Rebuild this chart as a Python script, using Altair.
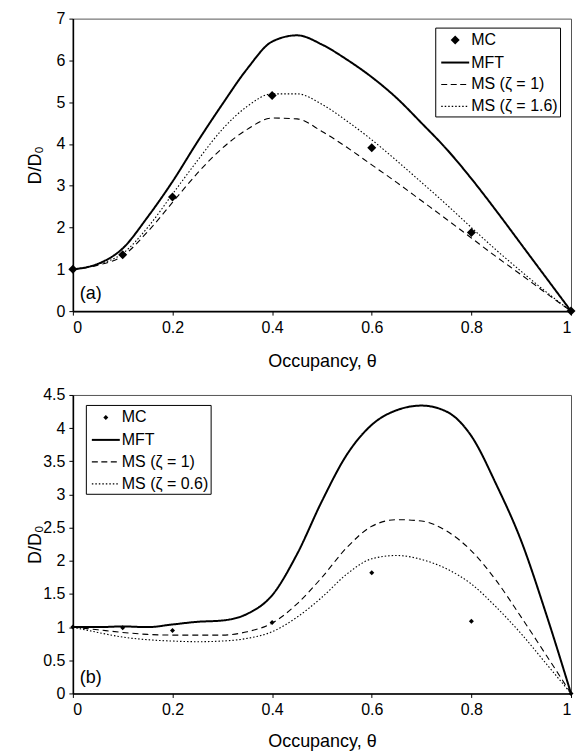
import altair as alt
import pandas as pd

FONT = "Liberation Sans"

theta = [0, 0.05, 0.1, 0.15, 0.2, 0.25, 0.3, 0.35, 0.4, 0.45, 0.5,
         0.55, 0.6, 0.65, 0.7, 0.75, 0.8, 0.85, 0.9, 0.95, 1.0]

# ---- panel (a)
mft_a = [1.00, 1.13, 1.50, 2.25, 3.10, 4.05, 4.95, 5.80, 6.45, 6.60, 6.38,
         6.02, 5.60, 5.10, 4.50, 3.88, 3.17, 2.40, 1.60, 0.80, 0.00]
ms1_a = [1.00, 1.10, 1.32, 1.90, 2.60, 3.30, 3.90, 4.35, 4.62, 4.60, 4.30,
         3.92, 3.50, 3.08, 2.64, 2.20, 1.75, 1.30, 0.87, 0.43, 0.00]
ms16_a = [1.00, 1.12, 1.38, 2.00, 2.80, 3.60, 4.35, 4.90, 5.20, 5.20, 4.95,
          4.55, 4.10, 3.60, 3.08, 2.55, 2.00, 1.46, 0.95, 0.46, 0.00]
mc_theta = [0, 0.1, 0.2, 0.4, 0.6, 0.8, 1.0]
mc_a = [1.00, 1.35, 2.73, 5.16, 3.91, 1.88, 0.00]

# ---- panel (b)
mft_b = [1.00, 1.00, 1.01, 1.00, 1.04, 1.08, 1.10, 1.20, 1.48, 2.10, 2.90,
         3.60, 4.05, 4.27, 4.34, 4.25, 3.88, 3.15, 2.30, 1.20, 0.00]
ms1_b = [1.00, 0.96, 0.92, 0.89, 0.88, 0.88, 0.88, 0.93, 1.06, 1.35, 1.75,
         2.20, 2.52, 2.62, 2.60, 2.45, 2.15, 1.70, 1.15, 0.58, 0.00]
ms06_b = [1.00, 0.92, 0.85, 0.81, 0.79, 0.78, 0.79, 0.83, 0.93, 1.15, 1.45,
          1.80, 2.03, 2.08, 2.02, 1.88, 1.65, 1.30, 0.90, 0.45, 0.00]
mc_b = [1.00, 0.99, 0.95, 1.07, 1.82, 1.09, 0.00]

names_a = ["MC", "MFT", "MS (ζ = 1)", "MS (ζ = 1.6)"]
names_b = ["MC", "MFT", "MS (ζ = 1)", "MS (ζ = 0.6)"]

x_ticks = [0, 0.2, 0.4, 0.6, 0.8, 1]
y_ticks_a = [0, 1, 2, 3, 4, 5, 6, 7]
y_ticks_b = [0, 0.5, 1, 1.5, 2, 2.5, 3, 3.5, 4, 4.5]

panel_a_label = ["(a)"]
panel_b_label = ["(b)"]
label_pos_a = [0.014, 0.42]
label_pos_b = [0.014, 0.24]

DASHES = [[1, 0], [1, 0], [6, 4], [1.5, 2]]
WIDTHS = [1, 2, 1.1, 1.1]


def diamond(r):
    return f"M-{r},0L0,-{r}L{r},0L0,{r}Z"


def bar_path(dash, gap, half_h, lo=-1.4, hi=1.4):
    """Filled legend glyph: a row of small bars (solid if gap == 0)."""
    parts = []
    a = lo
    while a < hi - 1e-9:
        b = min(a + dash, hi)
        parts.append(f"M{a:.3f},{-half_h:.3f}H{b:.3f}V{half_h:.3f}H{a:.3f}Z")
        a = b + gap
        if gap == 0:
            break
    return "".join(parts)


SOLID_GLYPH = bar_path(2.8, 0, 0.1)
DASH_GLYPH = bar_path(0.6, 0.35, 0.055)
DOT_GLYPH = bar_path(0.15, 0.2, 0.06)


def panel(names, series_vals, mc_vals, ymax, yticks, height, leg_xy, label, label_pos,
          mc_r, title_y):
    rows = []
    for name, vals in zip(names[1:], series_vals):
        for t, v in zip(theta, vals):
            rows.append({"theta": t, "d": v, "series": name})
    lines_df = pd.DataFrame(rows)
    mc_df = pd.DataFrame({"theta": mc_theta, "d": mc_vals, "series": "MC"})
    lab_df = pd.DataFrame({"theta": [label_pos[0]], "d": [label_pos[1]], "txt": label})

    leg = alt.Legend(
        title=None, orient="none", legendX=leg_xy[0], legendY=leg_xy[1],
        strokeColor="black", fillColor="white", padding=2, cornerRadius=0,
        labelFont=FONT, labelFontSize=16, labelColor="black", labelOffset=5,
        symbolOffset=7,
        symbolFillColor="black", symbolStrokeColor="black", symbolStrokeWidth=0,
        symbolOpacity=1, symbolSize=400, rowPadding=3, labelLimit=300,
    )

    x = alt.X("theta:Q", scale=alt.Scale(domain=[0, 1], nice=False),
              axis=alt.Axis(values=x_ticks, format="~g", title="Occupancy, θ",
                            titleY=title_y, titleBaseline="alphabetic", labelPadding=4))
    y = alt.Y("d:Q", scale=alt.Scale(domain=[0, ymax], nice=False),
              axis=alt.Axis(values=yticks, format="~g", title="D/D₀",
                            titleX=-32, titleBaseline="alphabetic", labelPadding=4))

    shape_scale = alt.Scale(domain=names,
                            range=[diamond(mc_r), SOLID_GLYPH, DASH_GLYPH, DOT_GLYPH])
    dash_scale = alt.Scale(domain=names, range=DASHES)
    width_scale = alt.Scale(type="ordinal", domain=names, range=WIDTHS)

    pts = alt.Chart(mc_df).mark_point(filled=True, opacity=1, fill="black",
                                      size=400).encode(
        x=x, y=y,
        shape=alt.Shape("series:N", scale=shape_scale, legend=leg),
    )
    lines = alt.Chart(lines_df).mark_line(color="black", interpolate="monotone").encode(
        x=x, y=y,
        strokeDash=alt.StrokeDash("series:N", scale=dash_scale, legend=None),
        strokeWidth=alt.StrokeWidth("series:N", scale=width_scale, legend=None),
        detail="series:N",
    )
    txt = alt.Chart(lab_df).mark_text(align="left", baseline="middle", font=FONT,
                                      fontSize=18, color="black").encode(
        x=x, y=y, text="txt:N")
    return alt.layer(pts, lines, txt).properties(width=499, height=height)


top = panel(names_a, [mft_a, ms1_a, ms16_a], mc_a, 7, y_ticks_a, 293, (363, 9),
            panel_a_label, label_pos_a, 0.45, 55)
bottom = panel(names_b, [mft_b, ms1_b, ms06_b], mc_b, 4.5, y_ticks_b, 299, (13, 10),
               panel_b_label, label_pos_b, 0.25, 53)

chart = alt.vconcat(top, bottom, spacing=15).resolve_scale(
    shape="independent", strokeDash="independent", strokeWidth="independent",
    x="independent", y="independent"
).properties(
    padding={"left": 26, "top": 9, "right": 0, "bottom": 0}
).configure_view(
    stroke="#555", strokeWidth=1
).configure_axis(
    domainColor="black", domainWidth=1.6, tickColor="black", tickSize=4, tickWidth=1,
    labelFont=FONT, labelFontSize=16, labelColor="black",
    titleFont=FONT, titleFontSize=18, titleFontWeight="normal", titleColor="black",
    grid=False,
)

chart.save("out.html", embed_options={"renderer": "svg", "actions": False})
